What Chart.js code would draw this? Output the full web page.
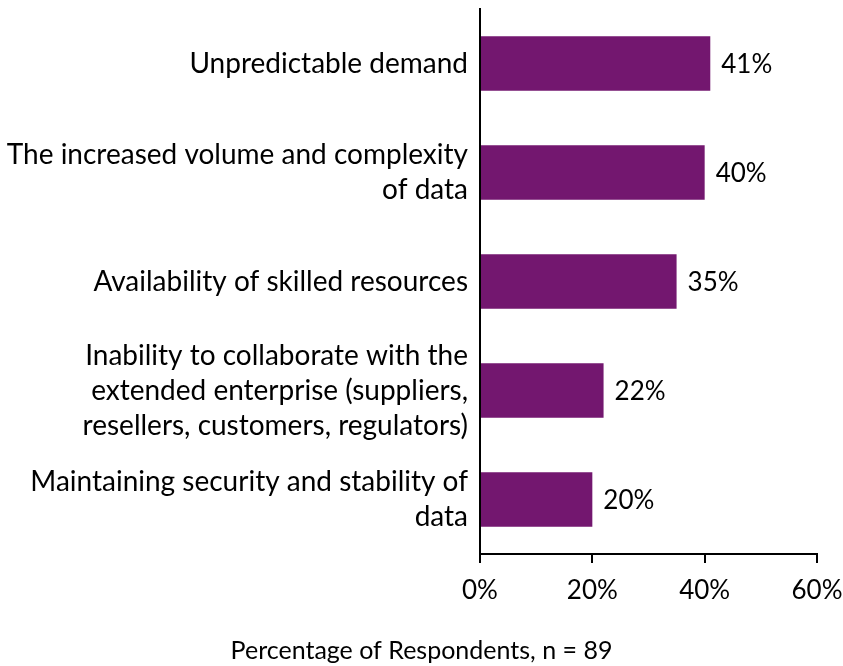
<!DOCTYPE html>
<html>
<head>
<meta charset="utf-8">
<script src="https://cdn.jsdelivr.net/npm/chart.js@4/dist/chart.umd.min.js"></script>
<style>
html,body{margin:0;padding:0;background:#fff;}
#wrap{width:843px;height:666px;position:relative;}
</style>
</head>
<body>
<div id="wrap"><canvas id="c"></canvas></div>
<script>
const categories = [
  ["Unpredictable demand"],
  ["The increased volume and complexity", "of data"],
  ["Availability of skilled resources"],
  ["Inability to collaborate with the", "extended enterprise (suppliers,", "resellers, customers, regulators)"],
  ["Maintaining security and stability of", "data"]
];
const values = [41, 40, 35, 22, 20];
const xTicks = [0, 20, 40, 60];
const axisTitle = "Percentage of Respondents, n = 89";

const FONT = "Lato, 'Open Sans', sans-serif";

const valueLabels = {
  id: 'valueLabels',
  afterDatasetsDraw(chart) {
    const ctx = chart.ctx;
    const meta = chart.getDatasetMeta(0);
    ctx.save();
    ctx.font = "26px " + FONT;
    ctx.fillStyle = "#000";
    ctx.textAlign = "left";
    ctx.textBaseline = "middle";
    meta.data.forEach((bar, i) => {
      ctx.fillText(values[i] + "%", bar.x + 11, bar.y + 1);
    });
    ctx.restore();
  }
};

new Chart(document.getElementById('c'), {
  type: 'bar',
  data: {
    labels: categories,
    datasets: [{
      data: values,
      backgroundColor: '#73176F',
      borderWidth: 0,
      barPercentage: 0.5,
      categoryPercentage: 1.0
    }]
  },
  options: {
    indexAxis: 'y',
    responsive: true,
    maintainAspectRatio: false,
    animation: false,
    layout: { padding: { top: 9, right: 0, left: 0, bottom: 0 } },
    plugins: {
      legend: { display: false },
      tooltip: { enabled: false },
      title: {
        display: true,
        position: 'bottom',
        text: axisTitle,
        color: '#000',
        font: { family: FONT, size: 25, weight: 'normal' },
        padding: { top: 12, bottom: 0 }
      }
    },
    scales: {
      x: {
        min: 0, max: 60,
        afterBuildTicks(scale) { scale.ticks = xTicks.map(v => ({ value: v })); },
        afterFit(scale) { scale.height = 70; scale.paddingLeft = 0; scale.paddingRight = 26; },
        ticks: {
          color: '#000',
          font: { family: FONT, size: 26 },
          padding: 12,
          maxRotation: 0,
          callback: v => v + '%'
        },
        grid: { drawOnChartArea: false, drawTicks: true, tickLength: 9, color: '#000', lineWidth: 2 },
        border: { display: true, color: '#000', width: 2 }
      },
      y: {
        afterFit(scale) { scale.width = 480; scale.paddingTop = 0; scale.paddingBottom = 0; },
        ticks: {
          color: '#000',
          font: { family: FONT, size: 28, lineHeight: 1.25 },
          padding: 12
        },
        grid: { display: false, drawTicks: false },
        border: { display: true, color: '#000', width: 2 }
      }
    }
  },
  plugins: [valueLabels]
});
</script>
</body>
</html>
